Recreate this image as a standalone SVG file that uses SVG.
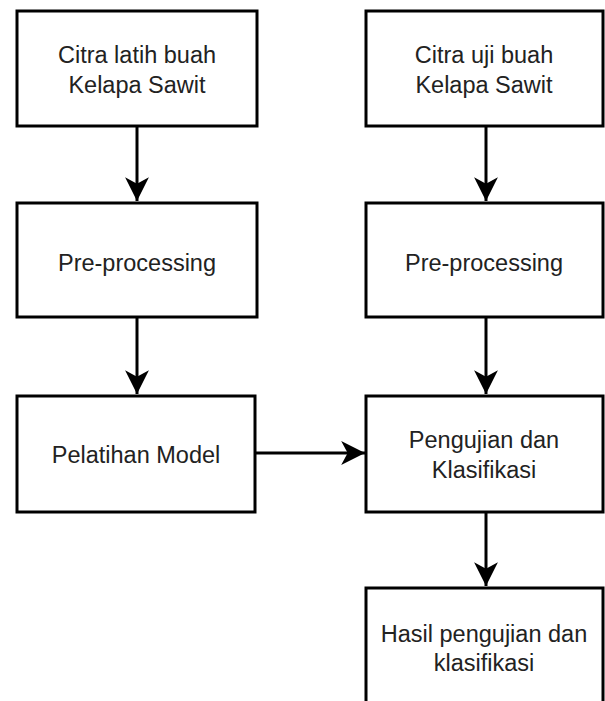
<svg xmlns="http://www.w3.org/2000/svg" width="605" height="701" viewBox="0 0 605 701">
<style>
.box{fill:#fff;stroke:#000;stroke-width:3}
.lbl{font-family:"Liberation Sans",Arial,Helvetica,sans-serif;font-size:23.5px;fill:#222;text-anchor:middle}
.edge{stroke:#000;stroke-width:3;fill:none}
</style>
<defs>
<marker id="ah" markerUnits="userSpaceOnUse" markerWidth="26" markerHeight="26" refX="22" refY="12" orient="auto" viewBox="0 0 24 24">
<path d="M0,1 L22,12 L0,23 L6,12 Z" fill="#000"/>
</marker>
</defs>
<rect width="605" height="701" fill="#fff"/>
<g id="connectors">
<line class="edge" x1="137" y1="126" x2="137" y2="201" marker-end="url(#ah)"/>
<line class="edge" x1="486" y1="126" x2="486" y2="201" marker-end="url(#ah)"/>
<line class="edge" x1="137" y1="317" x2="137" y2="394" marker-end="url(#ah)"/>
<line class="edge" x1="486" y1="317" x2="486" y2="394" marker-end="url(#ah)"/>
<line class="edge" x1="255" y1="453" x2="365" y2="453" marker-end="url(#ah)"/>
<line class="edge" x1="486" y1="512" x2="486" y2="586" marker-end="url(#ah)"/>
</g>
<g id="n1">
<rect class="box" x="17" y="11" width="240" height="115"/>
<text class="lbl" x="137" y="63">Citra latih buah</text>
<text class="lbl" x="137" y="93">Kelapa Sawit</text>
</g>
<g id="n2">
<rect class="box" x="366" y="11" width="237" height="115"/>
<text class="lbl" x="484" y="63">Citra uji buah</text>
<text class="lbl" x="484" y="93">Kelapa Sawit</text>
</g>
<g id="n3">
<rect class="box" x="17" y="203" width="240" height="114"/>
<text class="lbl" x="137" y="271">Pre-processing</text>
</g>
<g id="n4">
<rect class="box" x="366" y="203" width="237" height="114"/>
<text class="lbl" x="484" y="271">Pre-processing</text>
</g>
<g id="n5">
<rect class="box" x="17" y="396" width="238" height="116"/>
<text class="lbl" x="136" y="463">Pelatihan Model</text>
</g>
<g id="n6">
<rect class="box" x="366" y="396" width="237" height="116"/>
<text class="lbl" x="484" y="448">Pengujian dan</text>
<text class="lbl" x="484" y="478">Klasifikasi</text>
</g>
<g id="n7">
<rect class="box" x="366" y="588" width="237" height="130"/>
<text class="lbl" x="484" y="642">Hasil pengujian dan</text>
<text class="lbl" x="484" y="671">klasifikasi</text>
</g>
</svg>
